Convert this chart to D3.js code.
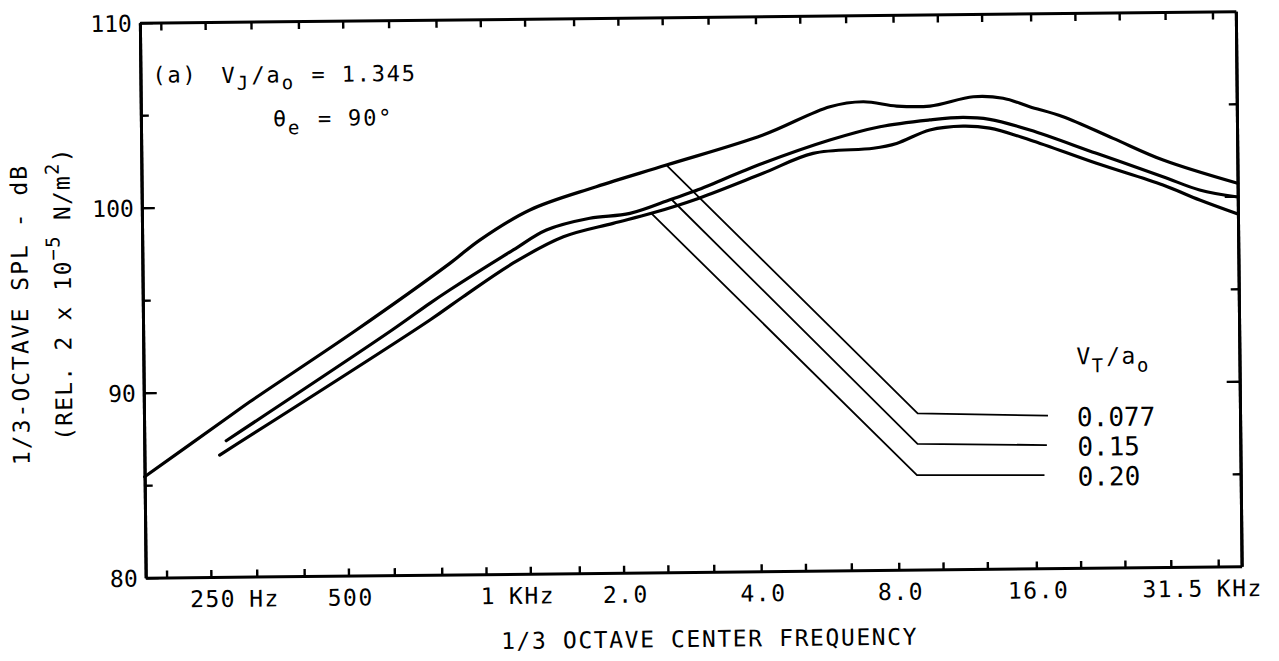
<!DOCTYPE html>
<html><head><meta charset="utf-8">
<script src="https://cdn.jsdelivr.net/npm/d3@7"></script>
<style>
html,body{margin:0;padding:0;background:#fff;}
svg{display:block;}
text{font-family:"DejaVu Sans Mono",monospace;fill:#000;}
</style></head><body>
<svg id="chart" width="1279" height="661"></svg>
<script>
// ---------- data ----------
const bandTicks = [200,250,315,400,500,630,800,1000,1250,1600,2000,2500,3150,4000,5000,6300,8000,10000,12500,16000,20000,25000,31500,40000];
const freqLabelValues  = [250, 500, 1000, 2000, 4000, 8000, 16000, 31500];
const freqLabelNumbers = ["250","500","1","2.0","4.0","8.0","16.0","31.5"];
const freqLabelUnits   = ["Hz","","KHz","","","","","KHz"];
const splMajorTicks = [80, 90, 100, 110];
const splMinorTicks = [85, 95, 105];
const splTickLabels = ["80","90","100","110"];

// Jet-noise spectra (thick curves), frequency in Hz, SPL in dB
const freqA = [180, 273, 307, 527, 847, 986, 1271, 1778, 2535, 4130, 5794, 6855, 8110, 9594, 11940, 13870, 15850, 18750, 24100, 30970, 45000];
const splA  = [85.46, 88.57, 89.45, 93.27, 96.82, 98.06, 99.66, 100.88, 102.01, 103.58, 105.07, 105.32, 105.07, 105.05, 105.53, 105.43, 104.96, 104.4, 103.2, 102.0, 100.7];
const freqB = [272, 631, 764, 845, 1167, 1380, 1718, 2104, 2594, 2897, 4121, 5781, 7447, 9572, 11320, 12940, 15850, 22130, 30900, 37150, 45000];
const splB  = [87.36, 93.25, 94.67, 95.38, 97.51, 98.57, 99.18, 99.42, 100.16, 100.56, 102.05, 103.27, 103.96, 104.3, 104.42, 104.3, 103.7, 102.4, 101.1, 100.36, 99.96];
const freqC = [263, 764, 904, 1164, 1503, 1932, 2344, 2972, 4121, 5309, 7194, 8091, 9572, 11320, 12940, 15850, 22130, 30900, 37150, 45000];
const splC  = [86.59, 93.77, 95.01, 96.79, 98.19, 98.89, 99.41, 100.19, 101.51, 102.56, 102.8, 103.05, 103.76, 103.95, 103.82, 103.16, 101.86, 100.65, 99.82, 99.04];

// V_T/a_o lines (thin)
const vtLabels = ["0.077", "0.15", "0.20"];
const vtFreq = [[2535, 8870, 17100], [2594, 8850, 16980], [2344, 8810, 16750]];
const vtSpl  = [[102.01, 88.45, 88.25], [100.16, 86.8, 86.66], [99.41, 85.11, 85.04]];

// ---------- layout ----------
const W = 1279, H = 661;
const pL = 142.75, pR = 1238.75, pT = 17, pB = 572;
const ccx = (pL + pR) / 2, ccy = (pT + pB) / 2;

const svg = d3.select("#chart");
svg.append("rect").attr("width", W).attr("height", H).attr("fill", "#fff");
const g = svg.append("g").attr("transform", `rotate(-0.6, ${ccx}, ${ccy})`);

const x = d3.scaleLog().domain([180, 45000]).range([pL, pR]);
const y = d3.scaleLinear().domain([80, 110]).range([pB, pT]);

function styleAxis(sel) {
  sel.select(".domain").attr("stroke", "#000").attr("stroke-width", 3);
  sel.selectAll(".tick line").attr("stroke", "#000").attr("stroke-width", 2.4);
  sel.attr("font-family", null).attr("font-size", null);
}

// bottom & top axes (frame + 1/3-octave ticks, pointing inward)
g.append("g").attr("transform", `translate(0,${pB})`)
  .call(d3.axisBottom(x).tickValues(bandTicks).tickSizeInner(-7).tickSizeOuter(0).tickFormat(() => ""))
  .call(styleAxis);
g.append("g").attr("transform", `translate(0,${pT})`)
  .call(d3.axisTop(x).tickValues(bandTicks).tickSizeInner(-8).tickSizeOuter(0).tickFormat(() => ""))
  .call(styleAxis);

// left axis
g.append("g").attr("transform", `translate(${pL},0)`)
  .call(d3.axisLeft(y).tickValues(splMinorTicks).tickSizeInner(-8).tickSizeOuter(0).tickFormat(() => ""))
  .call(styleAxis);
const yl = g.append("g").attr("transform", `translate(${pL},0)`)
  .call(d3.axisLeft(y).tickValues(splMajorTicks).tickSizeInner(-13).tickSizeOuter(0)
        .tickFormat((d, i) => splTickLabels[i]))
  .call(styleAxis);
yl.selectAll(".tick text").attr("font-size", 23).attr("font-family", "DejaVu Sans Mono")
  .attr("fill", "#000").attr("dy", "0.36em").attr("x", -8).attr("text-anchor", "end");

// right axis
g.append("g").attr("transform", `translate(${pR},0)`)
  .call(d3.axisRight(y).tickValues(splMinorTicks).tickSizeInner(-8).tickSizeOuter(0).tickFormat(() => ""))
  .call(styleAxis);
g.append("g").attr("transform", `translate(${pR},0)`)
  .call(d3.axisRight(y).tickValues(splMajorTicks.slice(1, 3)).tickSizeInner(-13).tickSizeOuter(0).tickFormat(() => ""))
  .call(styleAxis);

// x tick labels (number centered on tick, unit trailing)
const xLab = g.append("g");
freqLabelValues.forEach((f, i) => {
  const px = x(f) + 2;
  const t = xLab.append("text").attr("x", px).attr("y", pB + 30)
    .attr("text-anchor", "middle").attr("font-size", 23).attr("letter-spacing", 1.5)
    .text(freqLabelNumbers[i]);
  if (freqLabelUnits[i]) {
    const w = t.node().getComputedTextLength();
    xLab.append("text").attr("x", px + w / 2 + 13).attr("y", pB + 30)
      .attr("font-size", 23).attr("letter-spacing", 1.5).text(freqLabelUnits[i]);
  }
});

// axis titles
g.append("text").attr("x", 706).attr("y", pB + 75).attr("text-anchor", "middle")
  .attr("font-size", 23).attr("letter-spacing", 1.6).text("1/3 OCTAVE CENTER FREQUENCY");

g.append("text").attr("transform", `translate(28,${ccy + 13}) rotate(-90)`).attr("text-anchor", "middle")
  .attr("font-size", 23).attr("letter-spacing", 2).text("1/3-OCTAVE SPL - dB");

const yt2 = g.append("text").attr("transform", `translate(71,${ccy - 7}) rotate(-90)`).attr("text-anchor", "middle")
  .attr("font-size", 23).attr("letter-spacing", 1.2);
yt2.append("tspan").text("(REL. 2 x 10");
yt2.append("tspan").attr("font-size", 19).attr("dy", -11).text("\u22125");
yt2.append("tspan").attr("dy", 11).text(" N/m");
yt2.append("tspan").attr("font-size", 19).attr("dy", -11).text("2");
yt2.append("tspan").attr("dy", 11).text(")");

// annotation
const ann = g.append("g").attr("font-size", 22);
ann.append("text").attr("x", pL + 12).attr("y", pT + 60).attr("letter-spacing", 1.8).text("(a)");
const a1 = ann.append("text").attr("x", pL + 81).attr("y", pT + 61).attr("letter-spacing", 1.8);
a1.append("tspan").text("V");
a1.append("tspan").attr("font-size", 19).attr("letter-spacing", 3.5).attr("dy", 7).text("J");
a1.append("tspan").attr("dy", -7).text("/a");
a1.append("tspan").attr("font-size", 19).attr("letter-spacing", 3.5).attr("dy", 7).text("o");
a1.append("tspan").attr("dy", -7).text(" = 1.345");
const a2 = ann.append("text").attr("x", pL + 132).attr("y", pT + 105).attr("letter-spacing", 1.8);
a2.append("tspan").text("\u03B8");
a2.append("tspan").attr("font-size", 19).attr("letter-spacing", 3.5).attr("dy", 8).text("e");
a2.append("tspan").attr("dy", -8).text(" = 90\u00B0");

// thick spectra
const line = d3.line().x(d => x(d[0])).y(d => y(d[1])).curve(d3.curveCatmullRom.alpha(0.5));
[[freqA, splA], [freqB, splB], [freqC, splC]].forEach(([fs, ss]) => {
  g.append("path").datum(fs.map((f, i) => [f, ss[i]]))
    .attr("d", line).attr("fill", "none").attr("stroke", "#000")
    .attr("stroke-width", 3.2).attr("stroke-linejoin", "round").attr("stroke-linecap", "round");
});

// thin V_T lines + labels
const thin = d3.line().x(d => x(d[0])).y(d => y(d[1]));
const labX = d3.max(vtFreq, a => x(a[2])) + 29;
vtFreq.forEach((fs, k) => {
  g.append("path").datum(fs.map((f, i) => [f, vtSpl[k][i]]))
    .attr("d", thin).attr("fill", "none").attr("stroke", "#000").attr("stroke-width", 1.8);
  g.append("text").attr("x", labX).attr("y", y(vtSpl[k][2]) + 11)
    .attr("font-size", 26).text(vtLabels[k]);
});
const lt = g.append("text").attr("x", labX).attr("y", y(vtSpl[0][2]) + 11 - 62)
  .attr("font-size", 23).attr("letter-spacing", 1.5);
lt.append("tspan").text("V");
lt.append("tspan").attr("font-size", 19).attr("letter-spacing", 3).attr("dy", 8).text("T");
lt.append("tspan").attr("dy", -8).text("/a");
lt.append("tspan").attr("font-size", 19).attr("dy", 8).text("o");
</script>
</body></html>
